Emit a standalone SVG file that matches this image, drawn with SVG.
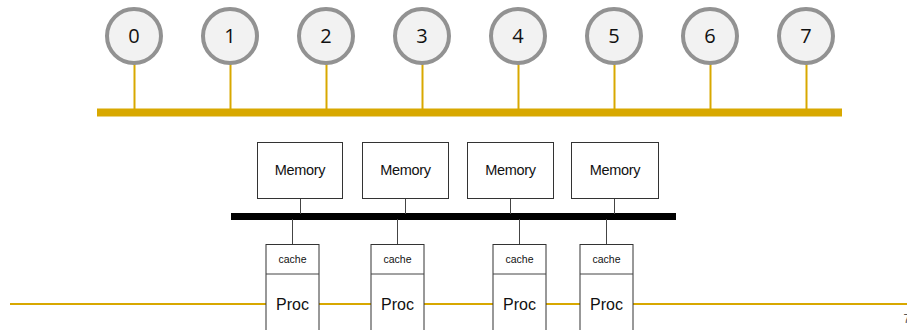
<svg xmlns="http://www.w3.org/2000/svg" width="907" height="330" viewBox="0 0 907 330">
<style>
.node circle{fill:#f2f2f2;stroke:#929292;stroke-width:4}
.num{font-family:"Open Sans","Liberation Sans",sans-serif;font-size:20px;fill:#111;text-anchor:middle}
.gold{stroke:#d8a800;fill:none}
.box{fill:#fff;stroke:#333;stroke-width:1}
.lbl{font-family:"Liberation Sans",Arial,sans-serif;fill:#111;text-anchor:middle}
.thin{stroke:#444;stroke-width:1;fill:none}
</style>
<g id="connectors">
<line class="gold" x1="97" y1="112.5" x2="842" y2="112.5" stroke-width="8"/>
<g class="gold" stroke-width="2">
<line x1="134.5" y1="64" x2="134.5" y2="110"/>
<line x1="230.5" y1="64" x2="230.5" y2="110"/>
<line x1="326.5" y1="64" x2="326.5" y2="110"/>
<line x1="422.5" y1="64" x2="422.5" y2="110"/>
<line x1="518.5" y1="64" x2="518.5" y2="110"/>
<line x1="614.5" y1="64" x2="614.5" y2="110"/>
<line x1="710.5" y1="64" x2="710.5" y2="110"/>
<line x1="806.5" y1="64" x2="806.5" y2="110"/>
</g>
<line x1="10" y1="304" x2="907" y2="304" class="gold" stroke-width="2"/>
<line x1="231" y1="216.5" x2="676" y2="216.5" stroke="#000" stroke-width="7"/>
<g class="thin">
<line x1="300.5" y1="198" x2="300.5" y2="214"/>
<line x1="405.5" y1="198" x2="405.5" y2="214"/>
<line x1="510.5" y1="198" x2="510.5" y2="214"/>
<line x1="614.5" y1="198" x2="614.5" y2="214"/>
<line x1="292.5" y1="219" x2="292.5" y2="244"/>
<line x1="397.5" y1="219" x2="397.5" y2="244"/>
<line x1="519.5" y1="219" x2="519.5" y2="244"/>
<line x1="606.5" y1="219" x2="606.5" y2="244"/>
</g>
</g>
<g id="n0" class="node"><circle cx="134" cy="36" r="27"/><text class="num" x="134" y="43">0</text></g>
<g id="n1" class="node"><circle cx="230" cy="36" r="27"/><text class="num" x="230" y="43">1</text></g>
<g id="n2" class="node"><circle cx="326" cy="36" r="27"/><text class="num" x="326" y="43">2</text></g>
<g id="n3" class="node"><circle cx="422" cy="36" r="27"/><text class="num" x="422" y="43">3</text></g>
<g id="n4" class="node"><circle cx="518" cy="36" r="27"/><text class="num" x="518" y="43">4</text></g>
<g id="n5" class="node"><circle cx="614" cy="36" r="27"/><text class="num" x="614" y="43">5</text></g>
<g id="n6" class="node"><circle cx="710" cy="36" r="27"/><text class="num" x="710" y="43">6</text></g>
<g id="n7" class="node"><circle cx="806" cy="36" r="27"/><text class="num" x="806" y="43">7</text></g>
<g id="mem1"><rect class="box" x="257.5" y="142.5" width="85" height="56"/><text class="lbl" x="300" y="175" font-size="14.5" letter-spacing="-0.3">Memory</text></g>
<g id="mem2"><rect class="box" x="362.5" y="142.5" width="86" height="56"/><text class="lbl" x="405.5" y="175" font-size="14.5" letter-spacing="-0.3">Memory</text></g>
<g id="mem3"><rect class="box" x="467.5" y="142.5" width="86" height="56"/><text class="lbl" x="510.5" y="175" font-size="14.5" letter-spacing="-0.3">Memory</text></g>
<g id="mem4"><rect class="box" x="571.5" y="142.5" width="87" height="56"/><text class="lbl" x="615" y="175" font-size="14.5" letter-spacing="-0.3">Memory</text></g>
<g id="p1"><rect class="box" x="266" y="244.5" width="53" height="90"/><line class="thin" x1="266" y1="274" x2="319" y2="274"/><text class="lbl" x="292.5" y="263" font-size="10.5">cache</text><text class="lbl" x="292.5" y="310" font-size="16">Proc</text></g>
<g id="p2"><rect class="box" x="371" y="244.5" width="53" height="90"/><line class="thin" x1="371" y1="274" x2="424" y2="274"/><text class="lbl" x="397.5" y="263" font-size="10.5">cache</text><text class="lbl" x="397.5" y="310" font-size="16">Proc</text></g>
<g id="p3"><rect class="box" x="493" y="244.5" width="53" height="90"/><line class="thin" x1="493" y1="274" x2="546" y2="274"/><text class="lbl" x="519.5" y="263" font-size="10.5">cache</text><text class="lbl" x="519.5" y="310" font-size="16">Proc</text></g>
<g id="p4"><rect class="box" x="580" y="244.5" width="53" height="90"/><line class="thin" x1="580" y1="274" x2="633" y2="274"/><text class="lbl" x="606.5" y="263" font-size="10.5">cache</text><text class="lbl" x="606.5" y="310" font-size="16">Proc</text></g>
<text x="903.5" y="323" font-family="Liberation Sans,sans-serif" font-size="12" fill="#555">7</text>
</svg>
